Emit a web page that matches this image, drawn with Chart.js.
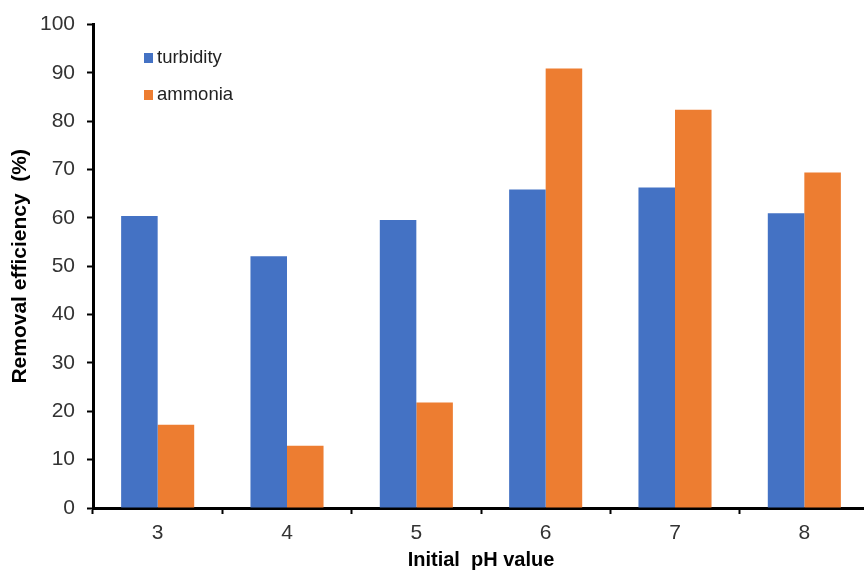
<!DOCTYPE html>
<html>
<head>
<meta charset="utf-8">
<script src="https://cdn.jsdelivr.net/npm/chart.js@4/dist/chart.umd.min.js"></script>
<style>
  html, body { margin: 0; padding: 0; background: #fff; }
  #wrap { width: 864px; height: 570px; overflow: hidden; position: relative; }
  canvas { display: block; }
</style>
</head>
<body>
<div id="wrap"><canvas id="chart" width="880" height="570"></canvas></div>
<script>
// Initial pH values tested
const phValues = ['3', '4', '5', '6', '7', '8'];
// Removal efficiency (%) for each pH
const turbidity = [60.4, 52.1, 59.6, 65.9, 66.3, 61.0];
const ammonia = [17.2, 12.9, 21.8, 90.9, 82.4, 69.4];
// Y axis range and step
const yMin = 0, yMax = 100, yStep = 10;

const FONT = '"Liberation Sans", Arial, sans-serif';

// Legend boxes drawn inside the plot area, top-left
const innerLegend = {
  id: 'innerLegend',
  afterDraw(chart) {
    const ctx = chart.ctx;
    const x0 = 144, y0 = 58, gap = 37;
    ctx.save();
    ctx.font = '18.5px ' + FONT;
    ctx.textBaseline = 'middle';
    ctx.textAlign = 'left';
    chart.data.datasets.forEach((ds, i) => {
      const y = y0 + i * gap;
      ctx.fillStyle = ds.backgroundColor;
      ctx.fillRect(x0, y - 5, 9, 10);
      ctx.fillStyle = '#222';
      ctx.fillText(ds.label, x0 + 13, y);
    });
    ctx.restore();
  }
};

new Chart(document.getElementById('chart'), {
  type: 'bar',
  data: {
    labels: phValues,
    datasets: [
      { label: 'turbidity', data: turbidity, backgroundColor: '#4472C4' },
      { label: 'ammonia', data: ammonia, backgroundColor: '#ED7D31' }
    ]
  },
  options: {
    responsive: false,
    animation: false,
    devicePixelRatio: 1,
    layout: { padding: { left: 0, right: 11, top: 24, bottom: 0 } },
    datasets: { bar: { categoryPercentage: 0.565, barPercentage: 1.0 } },
    plugins: {
      legend: { display: false },
      tooltip: { enabled: false }
    },
    scales: {
      x: {
        offset: true,
        grid: {
          display: true, drawOnChartArea: false, drawTicks: true, offset: true,
          tickLength: 6, tickColor: '#000', tickWidth: 2
        },
        border: { display: true, color: '#000', width: 3 },
        ticks: { color: '#333', font: { family: FONT, size: 21 }, padding: 7 },
        title: {
          display: true, text: 'Initial  pH value', color: '#000',
          font: { family: FONT, size: 20, weight: 'bold', lineHeight: 1 },
          padding: { top: 0, bottom: 0 }
        },
        afterFit(scale) { scale.height = 62; }
      },
      y: {
        min: yMin, max: yMax,
        grid: {
          display: true, drawOnChartArea: false, drawTicks: true,
          tickLength: 6, tickColor: '#000', tickWidth: 2
        },
        border: { display: true, color: '#000', width: 3 },
        ticks: { stepSize: yStep, color: '#333', font: { family: FONT, size: 21 }, padding: 12 },
        title: {
          display: true, text: 'Removal efficiency  (%)', color: '#000',
          font: { family: FONT, size: 21, weight: 'bold', lineHeight: 1 },
          padding: { top: 10, bottom: 0 }
        },
        afterFit(scale) { scale.width = 93; }
      }
    }
  },
  plugins: [innerLegend]
});
</script>
</body>
</html>
